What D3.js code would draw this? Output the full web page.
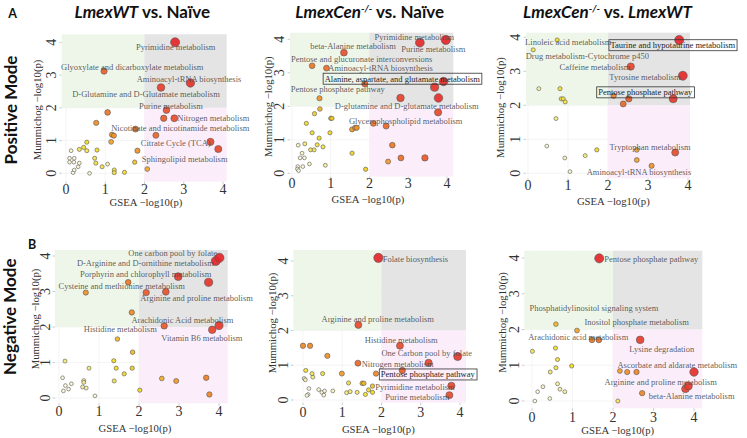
<!DOCTYPE html>
<html><head><meta charset="utf-8">
<script src="https://cdn.jsdelivr.net/npm/d3@7"></script>
<style>
html,body{margin:0;padding:0;background:#fff;}
svg{display:block;}
</style></head><body>
<svg id="chart" width="747" height="438"></svg>
<script>
// ---------------- DATA ----------------
const tickValues = [0, 1, 2, 3, 4];
const xAxisTitle = "GSEA \u2212log10(p)";
const yAxisTitle = "Mummichog \u2212log10(p)";
const rowTitles = ["Positive Mode", "Negative Mode"];
const panelLetters = ["A", "B"];

// Panel 1: Positive mode, LmexWT vs. Naïve
const p1Names = ["Pyrimidine metabolism","Glyoxylate and dicarboxylate metabolism","Aminoacyl-tRNA biosynthesis","D-Glutamine and D-Glutamate metabolism","Purine metabolism","Nitrogen metabolism","Nicotinate and nicotinamide metabolism","Citrate Cycle (TCA)","Sphingolipid metabolism",
  "","","","","","","","","","","","","","","","","","","","","","","","","","","","","",""];
const p1Gsea = [2.78,0.97,3.17,2.42,2.56,2.76,1.77,3.68,3.88, 1.06,2.49,0.77,1.17,1.22,2.29,1.15,1.82,2.07,0.53,0.45,0.34,0.53,0.79,0.73,0.76,0.92,1.23,1.23,1.49,1.75,0.13,0.09,0.21,0.09,0.20,0.34,1.06,0.31,0.21,0.18,0.60];
const p1Mummichog = [4.00,3.12,2.76,2.62,1.93,1.68,1.35,0.96,0.74, 1.86,1.68,1.54,1.18,1.15,1.16,0.96,0.69,0.13,0.95,0.79,0.73,0.69,0.71,0.46,0.31,0.20,0.10,0.02,0.03,0.34,0.69,0.46,0.46,0.34,0.34,0.31,0.28,0.20,0.10,0.02,0.00];
const p1Combined = [6.5,4.2,6.0,5.3,4.6,4.7,4.0,5.0,4.9, 3.6,4.3,3.1,2.9,2.9,4.0,2.6,3.0,2.5,1.5,1.4,1.2,1.3,1.5,1.3,1.3,1.3,1.4,1.4,1.5,1.9,0.5,0.3,0.3,0.3,0.3,0.4,0.7,0.3,0.3,0.2,0.4];

// Panel 2: Positive mode, LmexCen-/- vs. Naïve
const p2Names = ["Pyrimidine metabolism","Purine metabolism","beta-Alanine metabolism","Pentose and glucuronate interconversions","Aminoacyl-tRNA biosynthesis","Alanine, aspartate, and glutamate metabolism","Pentose phosphate pathway","D-glutamine and D-glutamate metabolism","Glycerophospholipid metabolism",
  "","","","","","","","","","","","","","","","","","","","","","","","","","","","","","","","","","",""];
const p2Gsea = [3.30,3.97,1.34,0.52,0.89,3.91,0.71,3.77,2.10, 1.88,3.68,2.80,3.78,0.72,0.58,1.00,1.03,0.37,1.55,1.63,1.67,2.43,0.52,0.98,0.70,2.59,0.16,0.33,0.65,0.80,0.48,0.57,0.26,1.55,0.21,0.32,2.81,3.43,2.48,0.45,0.86,0.15,0.14,0.17,0.28,1.90];
const p2Mummichog = [3.90,3.98,3.60,3.21,3.14,2.74,2.24,1.82,1.49, 2.67,2.57,2.25,2.25,1.92,1.78,1.64,1.64,1.49,1.31,1.36,1.36,1.41,1.21,1.21,1.05,0.84,0.84,0.88,0.85,0.79,0.70,0.70,0.60,0.60,0.46,0.46,0.46,0.46,0.35,0.28,0.24,0.20,0.13,0.08,0.20,0.12];
const p2Combined = [6.3,6.6,4.6,3.6,3.8,6.0,3.0,5.0,3.6, 4.2,5.8,5.2,6.1,2.3,1.8,1.9,1.9,1.5,2.8,3.0,3.0,4.0,1.5,1.6,1.5,3.5,0.6,1.1,1.3,1.3,1.2,1.2,0.5,1.6,0.4,0.4,3.8,4.3,2.8,0.5,0.8,0.3,0.3,0.3,0.4,1.8];

// Panel 3: Positive mode, LmexCen-/- vs. LmexWT
const p3Names = ["Linoleic acid metabolism","Drug metabolism-Cytochrome p450","Taurine and hypotaurine metabolism","Caffeine metabolism","Tyrosine metabolism","Pentose phosphate pathway","Tryptophan metabolism","Aminoacyl-tRNA biosynthesis",
  "","","","","","","","","","","","","","","",""];
const p3Gsea = [0.73,0.13,3.78,2.57,3.87,2.52,2.72,3.09, 0.27,0.80,0.83,0.88,0.93,2.14,2.38,3.63,0.70,0.47,1.72,3.68,0.92,1.43,2.72,1.05];
const p3Mummichog = [3.92,3.63,3.92,3.14,2.87,2.19,0.69,0.22, 2.49,2.49,2.19,2.19,2.10,2.28,2.04,2.19,1.61,0.80,0.69,0.61,0.45,0.52,0.39,0.05];
const p3Combined = [1.5,1.2,6.5,5.0,6.4,4.3,2.6,3.0, 0.8,1.4,1.3,1.3,1.3,3.2,4.0,5.6,1.0,0.5,1.6,4.8,0.6,1.0,2.6,0.4];

// Panel 4: Negative mode, LmexWT vs. Naïve
const p4Names = ["One carbon pool by folate","D-Arginine and D-ornithine metabolism","Porphyrin and chlorophyll metabolism","Cysteine and methionine metabolism","Arginine and proline metabolism","Arachidonic Acid metabolism","Histidine metabolism","Vitamin B6 metabolism",
  "","","","","","","","","","","","","","","","","","","","","","","","","","","",""];
const p4Gsea = [4.01,3.92,2.98,0.67,3.74,2.63,1.46,3.83, 1.73,2.18,2.67,1.82,4.00,1.84,0.15,1.37,0.75,1.43,1.83,1.63,0.09,0.62,0.62,1.38,2.57,2.93,3.68,0.31,0.16,0.24,0.11,0.59,0.68,2.02,3.76,0.90];
const p4Mummichog = [3.95,3.86,3.42,2.97,3.26,2.03,1.66,1.92, 3.26,2.97,2.99,2.41,2.04,1.29,1.04,1.05,0.84,0.84,0.84,0.68,0.57,0.49,0.44,0.48,0.55,0.48,0.57,0.40,0.35,0.25,0.20,0.31,0.28,0.22,0.10,0.06];
const p4Combined = [6.6,6.5,5.5,3.0,5.8,4.3,2.2,5.2, 3.6,4.3,4.6,3.2,5.7,2.2,1.0,1.5,1.0,1.5,1.8,1.6,0.4,0.9,0.9,1.3,2.4,2.8,3.4,0.4,0.3,0.3,0.3,0.8,0.8,1.6,3.2,0.4];

// Panel 5: Negative mode, LmexCen-/- vs. Naïve
const p5Names = ["Folate biosynthesis","Arginine and proline metabolism","Histidine metabolism","One Carbon pool by folate","Nitrogen metabolism","Pentose phosphate pathway","Pyrimidine metabolism","Purine metabolism",
  "","","","","","","","","","","","","","","","","","","","","","","","","","","",""];
const p5Gsea = [1.92,1.41,2.47,3.94,1.40,2.53,3.78,3.73, 3.20,0.00,0.18,0.62,1.86,0.99,0.07,0.23,0.25,0.50,0.03,0.06,1.16,1.51,1.55,1.77,1.67,1.77,1.59,1.38,1.20,1.11,0.76,0.40,0.48,0.55,0.53,0.15,0.13,0.10];
const p5Mummichog = [4.09,2.16,1.56,1.25,1.06,0.85,0.41,0.14, 1.07,1.56,1.56,1.27,0.76,0.76,0.85,0.76,0.66,0.76,0.62,0.58,0.49,0.48,0.48,0.40,0.29,0.22,0.16,0.22,0.24,0.21,0.26,0.30,0.22,0.26,0.14,0.33,0.16,0.13];
const p5Combined = [6.6,4.8,4.8,5.6,4.0,4.2,5.0,4.8, 5.0,3.2,3.2,3.0,3.2,2.8,1.4,1.2,1.0,1.4,0.6,0.6,1.4,2.2,2.2,2.0,1.5,1.6,1.4,1.1,1.1,1.0,0.6,0.4,0.4,0.4,0.4,0.3,0.3,0.3];

// Panel 6: Negative mode, LmexCen-/- vs. LmexWT
const p6Names = ["Pentose phosphate pathway","Phosphatidylinositol signaling system","Inositol phosphate metabolism","Arachidonic acid metabolism","Lysine degradation","Ascorbate and aldarate metabolism","Arginine and proline metabolism","beta-Alanine metabolism",
  "","","","","","","","","","","","","","","","","","",""];
const p6Gsea = [1.66,0.59,1.11,1.48,2.67,4.00,3.86,2.72, 1.65,0.01,0.58,0.63,0.59,0.98,0.45,2.17,2.35,2.58,0.63,0.27,0.69,0.81,0.14,0.44,0.07,2.12,3.79];
const p6Mummichog = [3.99,2.15,1.97,1.71,1.71,0.81,0.42,0.22, 1.71,1.39,1.48,1.16,0.93,0.98,0.81,0.84,0.81,0.81,0.48,0.40,0.33,0.26,0.26,0.07,0.00,0.00,0.34];
const p6Combined = [6.5,2.2,2.6,3.6,5.4,6.0,5.6,3.2, 3.8,1.2,1.4,1.3,1.3,1.5,1.1,2.6,3.0,3.2,0.8,0.5,0.8,0.8,0.3,0.4,0.3,1.2,5.4];

// ---------------- LAYOUT (positions / styles) ----------------
const panels = [
  {key:"p1", names:p1Names, gsea:p1Gsea, mum:p1Mummichog, comb:p1Combined,
   left:61.7, right:226.7, top:34.3, bottom:181.7, x0:66, x4:223, y0:173.3, y4:42.3, tickOff:8,
   xTitle:[146,202], yTitle:[36.7,110], title:{x:142.3, y:17.5, parts:[["LmexWT",true,0],[" vs. Na\u00efve",false,0]]}},
  {key:"p2", names:p2Names, gsea:p2Gsea, mum:p2Mummichog, comb:p2Combined,
   left:290, right:453.3, top:32.7, bottom:176.7, x0:292, x4:447, y0:173.3, y4:39.3, tickOff:7,
   xTitle:[368,198.5], yTitle:[268.3,106.7], title:{x:369.7, y:17.5, parts:[["LmexCen",true,0],["-/-",true,1],[" vs. Na\u00efve",false,0]]}},
  {key:"p3", names:p3Names, gsea:p3Gsea, mum:p3Mummichog, comb:p3Combined,
   left:526, right:690, top:32.7, bottom:178.3, x0:528, x4:688, y0:173.3, y4:37.3, tickOff:7.5,
   xTitle:[613.3,200.5], yTitle:[500,107.5], title:{x:607.5, y:17.5, parts:[["LmexCen",true,0],["-/-",true,1],[" vs. ",false,0],["LmexWT",true,0]]}},
  {key:"p4", names:p4Names, gsea:p4Gsea, mum:p4Mummichog, comb:p4Combined,
   left:55, right:227.7, top:250, bottom:403.3, x0:59, x4:219, y0:398, y4:256, tickOff:8.5,
   xTitle:[135,427.5], yTitle:[35,319]},
  {key:"p5", names:p5Names, gsea:p5Gsea, mum:p5Mummichog, comb:p5Combined,
   left:293.3, right:466, top:250, bottom:402.7, x0:303, x4:460, y0:400, y4:261, tickOff:9.5,
   xTitle:[378.3,429], yTitle:[271.7,323]},
  {key:"p6", names:p6Names, gsea:p6Gsea, mum:p6Mummichog, comb:p6Combined,
   left:524.3, right:702.3, top:250.7, bottom:408.3, x0:532, x4:694, y0:401, y4:258, tickOff:9,
   xTitle:[617.7,429.5], yTitle:[501.7,322.5]}
];

// label offsets from their point: [dx, dy, anchor, boxed]
const labelLayout = {
  p1: {"Pyrimidine metabolism":[0.6,4.7,"middle"],
       "Glyoxylate and dicarboxylate metabolism":[28.2,-4.4,"middle"],
       "Aminoacyl-tRNA biosynthesis":[-1.4,-4.2,"middle"],
       "D-Glutamine and D-Glutamate metabolism":[-15,6.5,"middle"],
       "Purine metabolism":[4.5,-4.1,"middle"],
       "Nitrogen metabolism":[3,-0.5,"start"],
       "Nicotinate and nicotinamide metabolism":[44.8,-0.8,"middle"],
       "Citrate Cycle (TCA)":[-34.7,1.4,"middle"],
       "Sphingolipid metabolism":[-33.6,9.9,"middle"]},
  p2: {"Pyrimidine metabolism":[-5.6,-5.4,"middle"],
       "Purine metabolism":[-12.5,9,"middle"],
       "beta-Alanine metabolism":[9.1,-6.7,"middle"],
       "Pentose and glucuronate interconversions":[49.5,-6.8,"middle"],
       "Aminoacyl-tRNA biosynthesis":[1.8,0.2,"start"],
       "Alanine, aspartate, and glutamate metabolism":[-41.2,-2.8,"middle",true],
       "Pentose phosphate pathway":[18.2,-9,"middle"],
       "D-glutamine and D-glutamate metabolism":[-31.4,-6.3,"middle"],
       "Glycerophospholipid metabolism":[32.3,-2.1,"middle"]},
  p3: {"Linoleic acid metabolism":[11.1,2,"middle"],
       "Drug metabolism-Cytochrome p450":[54.1,5.8,"middle"],
       "Taurine and hypotaurine metabolism":[-6.4,5.2,"middle",true],
       "Caffeine metabolism":[-35.8,0.5,"middle"],
       "Tyrosine metabolism":[-37.8,1,"middle"],
       "Pentose phosphate pathway":[16.4,-6.5,"middle",true],
       "Tryptophan metabolism":[13.2,-2.5,"middle"],
       "Aminoacyl-tRNA biosynthesis":[-12.6,6.5,"middle"]},
  p4: {"One carbon pool by folate":[-46.7,-4.5,"middle"],
       "D-Arginine and D-ornithine metabolism":[-70.4,2.2,"middle"],
       "Porphyrin and chlorophyll metabolism":[-32.5,-2.8,"middle"],
       "Cysteine and methionine metabolism":[35.9,-6.9,"middle"],
       "Arginine and proline metabolism":[-12,16,"middle"],
       "Arachidonic Acid metabolism":[18.2,-5.9,"middle"],
       "Histidine metabolism":[2.9,-9.8,"middle"],
       "Vitamin B6 metabolism":[-10.3,8.5,"middle"]},
  p5: {"Folate biosynthesis":[4.3,1.4,"start"],
       "Arginine and proline metabolism":[19.4,-5.6,"middle"],
       "Histidine metabolism":[1.3,-6.1,"middle"],
       "One Carbon pool by folate":[-30.9,-3.3,"middle"],
       "Nitrogen metabolism":[3.7,0.5,"start"],
       "Pentose phosphate pathway":[25.5,4,"middle",true],
       "Pyrimidine metabolism":[-36.4,1.2,"middle"],
       "Purine metabolism":[-32.1,1.9,"middle"]},
  p6: {"Pentose phosphate pathway":[5.1,0.9,"start"],
       "Phosphatidylinositol signaling system":[38.1,-16.4,"middle"],
       "Inositol phosphate metabolism":[59.7,-8.3,"middle"],
       "Arachidonic acid metabolism":[-13.7,-2.9,"middle"],
       "Lysine degradation":[21.6,9.1,"middle"],
       "Ascorbate and aldarate metabolism":[-16.7,-6.7,"middle"],
       "Arginine and proline metabolism":[-27.6,-4.3,"middle"],
       "beta-Alanine metabolism":[49.5,2.9,"middle"]}
};

const serif = "'Liberation Serif', 'Times New Roman', serif";
const sans = "Lato, 'Open Sans', sans-serif";

const color = d3.scaleLinear()
  .domain([0, 0.8, 1.5, 2.5, 3.5, 4.5, 6.5])
  .range(["#ffffff", "#f6efa0", "#f3dc1c", "#f1a528", "#ec7a22", "#e8512b", "#e4262a"])
  .clamp(true);
const radius = d3.scaleLinear().domain([0, 2, 4, 6.6]).range([1.8, 2.2, 3.0, 4.6]).clamp(true);

const svg = d3.select("#chart");

panels.forEach(p => {
  const x = d3.scaleLinear().domain([0, 4]).range([p.x0, p.x4]);
  const y = d3.scaleLinear().domain([0, 4]).range([p.y0, p.y4]);
  const g = svg.append("g");
  const xl = x.invert(p.left), xr = x.invert(p.right);
  const yb = y.invert(p.bottom), yt = y.invert(p.top);

  // grid (visible only in the white quadrant)
  g.append("rect").attr("x", p.left).attr("y", p.top).attr("width", p.right - p.left).attr("height", p.bottom - p.top).attr("fill", "#fff");
  tickValues.forEach(t => {
    g.append("line").attr("x1", x(t)).attr("x2", x(t)).attr("y1", p.top).attr("y2", p.bottom).attr("stroke", "#ececec").attr("stroke-width", 0.6);
    g.append("line").attr("y1", y(t)).attr("y2", y(t)).attr("x1", p.left).attr("x2", p.right).attr("stroke", "#ececec").attr("stroke-width", 0.6);
  });
  // quadrants
  const quad = (xa, xb, ya, yb2, fill) => g.append("rect")
    .attr("x", x(xa)).attr("y", y(yb2)).attr("width", x(xb) - x(xa)).attr("height", y(ya) - y(yb2)).attr("fill", fill);
  quad(xl, 2, 2, yt, "#eef6ea");
  quad(2, xr, 2, yt, "#e4e4e4");
  quad(2, xr, yb, 2, "#fbeefa");

  // ticks
  tickValues.forEach(t => {
    g.append("line").attr("x1", x(t)).attr("x2", x(t)).attr("y1", p.bottom).attr("y2", p.bottom + 2.5).attr("stroke", "#aaa").attr("stroke-width", 0.6);
    g.append("line").attr("y1", y(t)).attr("y2", y(t)).attr("x1", p.left - 2.5).attr("x2", p.left).attr("stroke", "#aaa").attr("stroke-width", 0.6);
    g.append("text").attr("x", x(t)).attr("y", p.bottom + p.tickOff).attr("text-anchor", "middle")
      .attr("dominant-baseline", "central").attr("font-family", serif).attr("font-size", 14).attr("fill", "#333").text(t);
    const tx = p.left - 10, ty = y(t);
    g.append("text").attr("x", tx).attr("y", ty).attr("transform", `rotate(-90,${tx},${ty})`).attr("text-anchor", "middle")
      .attr("dominant-baseline", "central").attr("font-family", serif).attr("font-size", 14).attr("fill", "#333").text(t);
  });

  // axis titles
  g.append("text").attr("x", p.xTitle[0]).attr("y", p.xTitle[1]).attr("text-anchor", "middle").attr("dominant-baseline", "central")
    .attr("font-family", serif).attr("font-size", 10.7).attr("fill", "#333").text(xAxisTitle);
  g.append("text").attr("x", p.yTitle[0]).attr("y", p.yTitle[1]).attr("transform", `rotate(-90,${p.yTitle[0]},${p.yTitle[1]})`)
    .attr("text-anchor", "middle").attr("dominant-baseline", "central")
    .attr("font-family", serif).attr("font-size", 10.7).attr("fill", "#333").text(yAxisTitle);

  // points
  const pts = p.gsea.map((v, i) => ({name: p.names[i], gx: v, my: p.mum[i], c: p.comb[i]}));
  const sorted = pts.slice().sort((a, b) => a.c - b.c);
  g.selectAll("circle.pt").data(sorted).join("circle").attr("class", "pt")
    .attr("cx", d => x(d.gx)).attr("cy", d => y(d.my)).attr("r", d => radius(d.c))
    .attr("fill", d => color(d.c)).attr("fill-opacity", 0.92)
    .attr("stroke", "#555").attr("stroke-width", 0.6);

  // labels
  const lay = labelLayout[p.key];
  pts.filter(d => d.name).forEach(d => {
    const L = lay[d.name] || [0, -6, "middle"];
    const tx = x(d.gx) + L[0], ty = y(d.my) + L[1];
    const t = g.append("text").attr("x", tx).attr("y", ty).attr("text-anchor", L[2]).attr("dominant-baseline", "central")
      .attr("font-family", serif).attr("font-size", 8.5).attr("fill", L[3] ? "#1e1e1e" : "#454545")
      .attr("fill-opacity", L[3] ? 1 : 0.88).text(d.name);
    if (L[3]) {
      const bb = t.node().getBBox();
      g.insert("rect", () => t.node()).attr("x", bb.x - 1.5).attr("y", bb.y - 0.5).attr("width", bb.width + 3).attr("height", bb.height + 1)
        .attr("fill", "none").attr("stroke", "#333").attr("stroke-width", 0.8);
    }
  });

  // panel title
  if (p.title) {
    const tt = svg.append("text").attr("x", p.title.x).attr("y", p.title.y).attr("text-anchor", "middle")
      .attr("font-family", sans).attr("font-weight", "bold").attr("font-size", 17).attr("fill", "#111");
    let shifted = false;
    p.title.parts.forEach(part => {
      const ts = tt.append("tspan").text(part[0]).attr("font-style", part[1] ? "italic" : "normal");
      if (part[2]) { ts.attr("font-size", 10).attr("dy", -6); shifted = true; }
      else if (shifted) { ts.attr("dy", 6); shifted = false; }
    });
  }
});

// row titles and letters
[[10, 110], [10, 316.7]].forEach((pos, i) => {
  svg.append("text").attr("x", pos[0]).attr("y", pos[1]).attr("transform", `rotate(-90,${pos[0]},${pos[1]})`)
    .attr("text-anchor", "middle").attr("dominant-baseline", "central")
    .attr("font-family", sans).attr("font-weight", "bold").attr("font-size", 17).attr("fill", "#111").text(rowTitles[i]);
});
[[12.7, 13.5], [32, 244]].forEach((pos, i) => {
  svg.append("text").attr("x", pos[0]).attr("y", pos[1]).attr("text-anchor", "middle").attr("dominant-baseline", "central")
    .attr("font-family", sans).attr("font-weight", "bold").attr("font-size", 12.5).attr("fill", "#111").text(panelLetters[i]);
});
</script>
</body></html>
